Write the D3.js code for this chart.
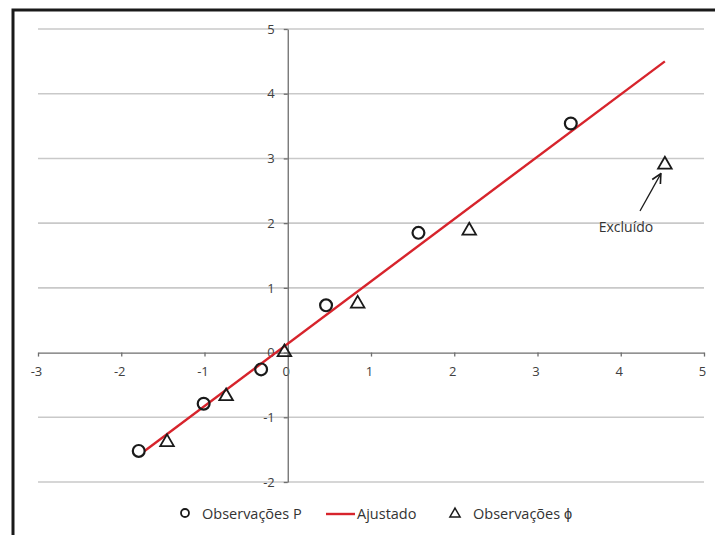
<!DOCTYPE html>
<html>
<head>
<meta charset="utf-8">
<script src="https://cdn.jsdelivr.net/npm/d3@7"></script>
<style>
  body { margin: 0; background: #fff; }
  svg { display: block; font-family: "Open Sans", "Liberation Sans", sans-serif; }
</style>
</head>
<body>
<svg width="715" height="535"></svg>
<script>
// observed values (circles)
const obsP_x = [-1.79, -1.01, -0.32, 0.46, 1.57, 3.40];
const obsP_y = [-1.52, -0.79, -0.26, 0.73, 1.85, 3.54];
// observed values (triangles)
const obsPhi_x = [-1.45, -0.74, -0.04, 0.84, 2.18, 4.53];
const obsPhi_y = [-1.37, -0.66, 0.02, 0.77, 1.90, 2.92];
// fitted line end points
const fit_x = [-1.72, 4.53];
const fit_y = [-1.52, 4.50];
const xTicks = [-3, -2, -1, 0, 1, 2, 3, 4, 5];
const yTicks = [-2, -1, 0, 1, 2, 3, 4, 5];
const legendLabels = ["Observações P", "Ajustado", "Observações ϕ"];

let svg = d3.select("svg");

// frame (only top and left edges show in the picture)
svg.append("path")
    .attr("d", "M13,535 V10 H715")
    .attr("fill", "none")
    .attr("stroke", "#1a1a1a")
    .attr("stroke-width", 3);

let x = d3.scaleLinear().domain([-3, 5]).range([38, 704]),
    y = d3.scaleLinear().domain([-2, 5]).range([482, 29]);

let fmt = d => String(d);

// horizontal grid
svg.append("g")
    .selectAll("line")
    .data(yTicks.filter(d => d !== 0))
    .enter().append("line")
      .attr("x1", x(-3)).attr("x2", x(5))
      .attr("y1", d => y(d)).attr("y2", d => y(d))
      .attr("stroke", "#c9c9c9")
      .attr("stroke-width", 1.6);

// x axis through y=0
let gx = svg.append("g")
    .attr("transform", "translate(0," + y(0) + ")")
    .call(d3.axisBottom(x).tickValues(xTicks).tickFormat(fmt).tickSize(4).tickSizeOuter(0).tickPadding(10));

// y axis through x=0
let gy = svg.append("g")
    .attr("transform", "translate(" + x(0) + ",0)")
    .call(d3.axisLeft(y).tickValues(yTicks).tickFormat(fmt).tickSize(4).tickSizeOuter(0).tickPadding(9));

[gx, gy].forEach(g => {
  g.select(".domain").attr("stroke", "#6e6e6e").attr("stroke-width", 1.3);
  g.selectAll(".tick line").attr("stroke", "#6e6e6e").attr("stroke-width", 1.3);
  g.selectAll(".tick text")
    .attr("fill", "#404040")
    .style("font-size", "13px")
    .style("font-family", "'Open Sans', sans-serif");
});
gx.selectAll(".tick text").attr("dx", "-2");

// fitted line
svg.append("path")
    .datum(fit_x.map((v, i) => [v, fit_y[i]]))
    .attr("fill", "none")
    .attr("stroke", "#d7242c")
    .attr("stroke-width", 2.4)
    .attr("d", d3.line().x(d => x(d[0])).y(d => y(d[1])));

let circleSym = d3.symbol().type(d3.symbolCircle).size(110);
let triSym = d3.symbol().type(d3.symbolTriangle).size(80);

svg.append("g")
    .selectAll("path")
    .data(obsPhi_x.map((v, i) => [v, obsPhi_y[i]]))
    .enter().append("path")
      .attr("d", triSym)
      .attr("transform", d => "translate(" + x(d[0]) + "," + (y(d[1]) + 1) + ")")
      .attr("fill", "none")
      .attr("stroke", "#1a1a1a")
      .attr("stroke-width", 1.8);

svg.append("g")
    .selectAll("path")
    .data(obsP_x.map((v, i) => [v, obsP_y[i]]))
    .enter().append("path")
      .attr("d", circleSym)
      .attr("transform", d => "translate(" + x(d[0]) + "," + y(d[1]) + ")")
      .attr("fill", "none")
      .attr("stroke", "#1a1a1a")
      .attr("stroke-width", 2.2);

// annotation for excluded point
svg.append("defs").append("marker")
    .attr("id", "arrow")
    .attr("viewBox", "0 0 10 10")
    .attr("refX", 9).attr("refY", 5)
    .attr("markerWidth", 9).attr("markerHeight", 9)
    .attr("orient", "auto")
  .append("path")
    .attr("d", "M1,1 L9,5 L1,9")
    .attr("fill", "none")
    .attr("stroke", "#1a1a1a")
    .attr("stroke-width", 1.4);

svg.append("line")
    .attr("x1", 640).attr("y1", 211)
    .attr("x2", x(obsPhi_x[5]) - 4).attr("y2", y(obsPhi_y[5]) + 10)
    .attr("stroke", "#1a1a1a")
    .attr("stroke-width", 1.3)
    .attr("marker-end", "url(#arrow)");

svg.append("text")
    .attr("x", 626).attr("y", 232)
    .attr("text-anchor", "middle")
    .attr("fill", "#333")
    .style("font-size", "14px")
    .text("Excluído");

// legend
let lg = svg.append("g").style("font-size", "14.5px").attr("fill", "#333");
lg.append("path").attr("d", d3.symbol().type(d3.symbolCircle).size(50))
    .attr("transform", "translate(185,513)")
    .attr("fill", "none").attr("stroke", "#1a1a1a").attr("stroke-width", 1.8);
lg.append("text").attr("x", 202).attr("y", 519).text(legendLabels[0]);
lg.append("line").attr("x1", 326).attr("x2", 355).attr("y1", 514).attr("y2", 514)
    .attr("stroke", "#d7242c").attr("stroke-width", 2.4);
lg.append("text").attr("x", 357).attr("y", 519).text(legendLabels[1]);
lg.append("path").attr("d", d3.symbol().type(d3.symbolTriangle).size(45))
    .attr("transform", "translate(455,514)")
    .attr("fill", "none").attr("stroke", "#1a1a1a").attr("stroke-width", 1.5);
lg.append("text").attr("x", 473).attr("y", 519).text(legendLabels[2]);
</script>
</body>
</html>
